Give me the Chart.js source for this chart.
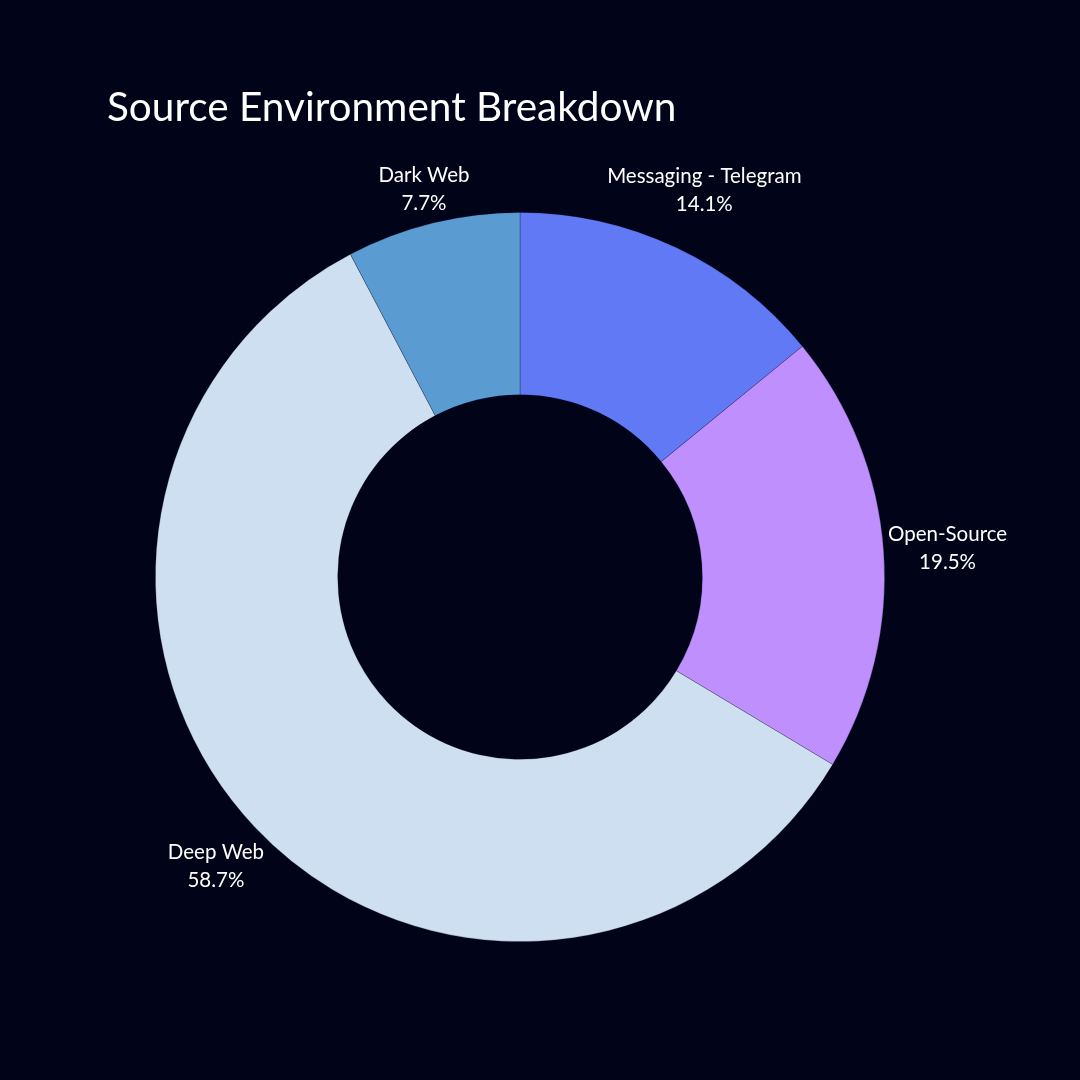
<!DOCTYPE html>
<html>
<head>
<meta charset="utf-8">
<script src="https://cdn.jsdelivr.net/npm/chart.js@4.4.0/dist/chart.umd.min.js"></script>
<style>
  html, body { margin: 0; padding: 0; background: #010418; }
  #wrap { width: 1080px; height: 1080px; position: relative; }
</style>
</head>
<body>
<div id="wrap"><canvas id="c" width="1080" height="1080"></canvas></div>
<script>
const titleText = "Source Environment Breakdown";
const categories = ["Messaging - Telegram", "Open-Source", "Deep Web", "Dark Web"];
const shares = [14.1, 19.5, 58.7, 7.7];
const sliceColors = ["#6279F5", "#BF8FFD", "#CEDFF1", "#5A9BD2"];

const FONT = "Lato, 'Open Sans', sans-serif";

const bgPlugin = {
  id: 'bg',
  beforeDraw(chart) {
    const ctx = chart.ctx;
    ctx.save();
    ctx.fillStyle = '#010418';
    ctx.fillRect(0, 0, chart.width, chart.height);
    ctx.restore();
  }
};

const titlePlugin = {
  id: 'titleText',
  afterDraw(chart) {
    const ctx = chart.ctx;
    ctx.save();
    ctx.fillStyle = '#FFFFFF';
    ctx.font = "400 40.5px " + FONT;
    ctx.textBaseline = 'alphabetic';
    ctx.textAlign = 'left';
    ctx.fillText(titleText, 107, 121);
    ctx.restore();
  }
};

const outsideLabels = {
  id: 'outsideLabels',
  afterDatasetsDraw(chart) {
    const ctx = chart.ctx;
    const meta = chart.getDatasetMeta(0);
    const fs = 20.5, lh = 28;
    ctx.save();
    ctx.fillStyle = '#FFFFFF';
    ctx.font = "400 " + fs + "px " + FONT;
    ctx.textAlign = 'center';
    ctx.textBaseline = 'middle';
    meta.data.forEach((arc, i) => {
      const p = arc.getProps(['x', 'y', 'startAngle', 'endAngle', 'outerRadius'], true);
      const mid = (p.startAngle + p.endAngle) / 2;
      const c = Math.cos(mid), s = Math.sin(mid);
      const lines = [categories[i], shares[i].toFixed(1) + '%'];
      const w = Math.max(...lines.map(t => ctx.measureText(t).width));
      const h = lh * 2;
      const r = p.outerRadius + 3 + Math.abs(c) * w / 2 + Math.abs(s) * (h / 2 - 5);
      const cx = p.x + c * r;
      const cy = p.y + s * r + 2;
      ctx.fillText(lines[0], cx, cy - lh / 2);
      ctx.fillText(lines[1], cx, cy + lh / 2);
    });
    ctx.restore();
  }
};

new Chart(document.getElementById('c'), {
  type: 'doughnut',
  data: {
    labels: categories,
    datasets: [{
      data: shares,
      backgroundColor: sliceColors,
      borderColor: 'rgba(1,4,24,0.3)',
      borderWidth: 0.8,
      hoverOffset: 0
    }]
  },
  options: {
    responsive: false,
    animation: false,
    cutout: '50%',
    rotation: 0,
    layout: { padding: { left: 155, right: 195, top: 212, bottom: 138 } },
    plugins: {
      legend: { display: false },
      tooltip: { enabled: false },
      title: { display: false }
    }
  },
  plugins: [bgPlugin, outsideLabels, titlePlugin]
});
</script>
</body>
</html>
